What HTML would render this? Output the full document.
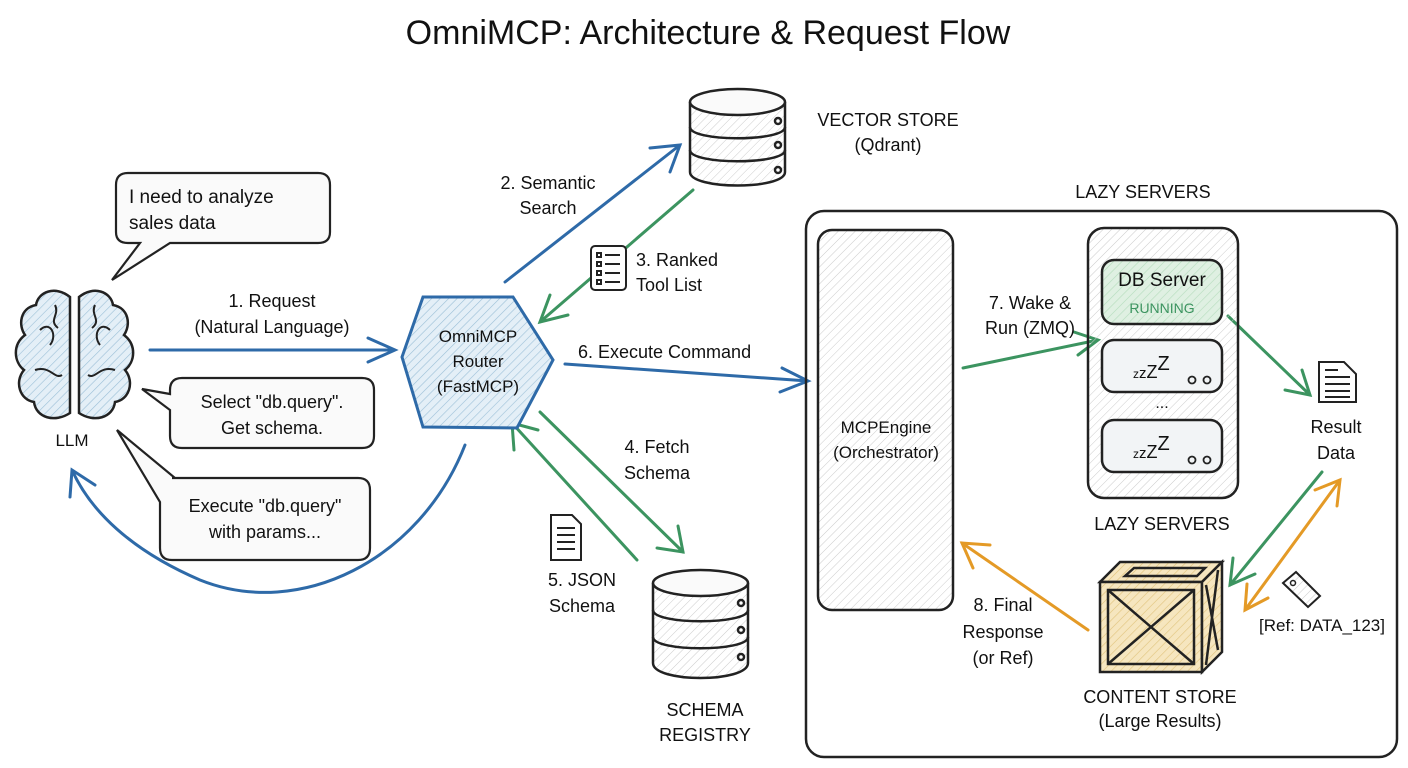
<!DOCTYPE html>
<html><head><meta charset="utf-8"><style>
html,body{margin:0;padding:0;background:#fff}
svg{display:block}
text{font-family:"Liberation Sans","DejaVu Sans",sans-serif;fill:#111}
</style></head><body>
<svg width="1408" height="768" viewBox="0 0 1408 768" xmlns="http://www.w3.org/2000/svg">
<defs>
<pattern id="h" width="6" height="6" patternUnits="userSpaceOnUse" patternTransform="rotate(45)"><line x1="0" y1="0" x2="0" y2="6" stroke="#ccc" stroke-width="1"/></pattern>
<pattern id="hb" width="6" height="6" patternUnits="userSpaceOnUse" patternTransform="rotate(45)"><rect width="6" height="6" fill="#e4eff7"/><line x1="0" y1="0" x2="0" y2="6" stroke="#9cc0d8" stroke-width="1.2"/></pattern>
<pattern id="hg" width="6" height="6" patternUnits="userSpaceOnUse" patternTransform="rotate(45)"><rect width="6" height="6" fill="#dff0e2"/><line x1="0" y1="0" x2="0" y2="6" stroke="#b4dcbc" stroke-width="1.2"/></pattern>
<pattern id="hy" width="6" height="6" patternUnits="userSpaceOnUse" patternTransform="rotate(45)"><rect width="6" height="6" fill="#f6e6bf"/><line x1="0" y1="0" x2="0" y2="6" stroke="#e0c27a" stroke-width="1.2"/></pattern>
</defs>
<rect width="1408" height="768" fill="#fff"/>
<text x="708" y="44" font-size="34" text-anchor="middle">OmniMCP: Architecture &amp; Request Flow</text>

<!-- brain -->
<g stroke="#222" stroke-width="2.5" fill="url(#hb)">
<path d="M70,297 C55,285 38,292 36,305 C20,308 18,325 25,335 C12,345 14,362 24,370 C14,382 20,400 34,402 C36,418 55,423 70,413 Z"/>
<path d="M79,297 C94,285 111,292 113,305 C129,308 131,325 124,335 C137,345 135,362 125,370 C135,382 129,400 115,402 C113,418 94,423 79,413 Z"/>
</g>
<g stroke="#222" stroke-width="2" fill="none">
<path d="M40,330 C50,320 58,335 50,345"/><path d="M35,370 C50,365 55,380 62,375"/><path d="M55,305 C60,315 48,320 58,328"/>
<path d="M110,330 C100,320 92,335 100,345"/><path d="M115,370 C100,365 95,380 88,375"/><path d="M95,305 C90,315 102,320 92,328"/>
</g>
<text x="72" y="446" font-size="17" text-anchor="middle">LLM</text>

<!-- bubbles -->
<g stroke="#222" stroke-width="2.2" fill="url(#h)">
<path d="M128,173 H318 Q330,173 330,185 V232 Q330,243 318,243 H170 L112,280 L140,243 H128 Q116,243 116,232 V185 Q116,173 128,173 Z" fill="#fafafa"/>
<path d="M182,378 H362 Q374,378 374,390 V436 Q374,448 362,448 H182 Q170,448 170,436 V410 L142,389 L170,394 V390 Q170,378 182,378 Z" fill="#fafafa"/>
<path d="M172,478 H358 Q370,478 370,490 V548 Q370,560 358,560 H172 Q160,560 160,548 V502 L117,430 L175,478 Z" fill="#fafafa"/>
</g>
<text font-size="19"><tspan x="129" y="203">I need to analyze</tspan><tspan x="129" y="229">sales data</tspan></text>
<text font-size="18" text-anchor="middle"><tspan x="272" y="408">Select "db.query".</tspan><tspan x="272" y="434">Get schema.</tspan></text>
<text font-size="18" text-anchor="middle"><tspan x="265" y="512">Execute "db.query"</tspan><tspan x="265" y="538">with params...</tspan></text>

<!-- arrows -->
<g fill="none" stroke-width="3" stroke-linecap="round">
<g stroke="#2e6aa8">
<path d="M150,350 H395 M368,338 L395,350 L368,362"/>
<path d="M505,282 L680,145 M650,148 L680,145 L670,172"/>
<path d="M565,364 L808,381 M782,368 L808,381 L780,392"/>
<path d="M465,445 C420,560 300,620 200,580 C130,550 90,510 72,470 M70,497 L72,470 L95,485"/>
</g>
<g stroke="#3c9460">
<path d="M693,190 L540,322 M550,295 L540,322 L568,315"/>
<path d="M540,412 L683,552 M657,548 L683,552 L678,526"/>
<path d="M637,560 L512,423 M514,450 L512,423 L538,430"/>
<path d="M963,368 L1098,340 M1074,332 L1098,340 L1078,355"/>
<path d="M1228,316 L1310,395 M1285,390 L1310,395 L1302,370"/>
<path d="M1322,472 L1230,585 M1233,558 L1230,585 L1255,574"/>
</g>
<g stroke="#e49a26">
<path d="M1340,480 L1245,610 M1247,584 L1245,610 L1268,598 M1315,490 L1340,480 L1337,506"/>
<path d="M1088,630 L962,543 M973,568 L962,543 L990,545"/>
</g>
</g>
<text font-size="18" text-anchor="middle"><tspan x="272" y="307">1. Request</tspan><tspan x="272" y="333">(Natural Language)</tspan></text>
<text font-size="18" text-anchor="middle"><tspan x="548" y="189">2. Semantic</tspan><tspan x="548" y="214">Search</tspan></text>
<text font-size="18"><tspan x="636" y="266">3. Ranked</tspan><tspan x="636" y="291">Tool List</tspan></text>
<text font-size="18" x="578" y="358">6. Execute Command</text>
<text font-size="18" text-anchor="middle"><tspan x="657" y="453">4. Fetch</tspan><tspan x="657" y="479">Schema</tspan></text>
<text font-size="18" text-anchor="middle"><tspan x="582" y="586">5. JSON</tspan><tspan x="582" y="612">Schema</tspan></text>

<!-- list icon -->
<g stroke="#222" stroke-width="2" fill="#fff"><rect x="591" y="246" width="35" height="44" rx="4"/>
<rect x="597" y="253" width="4" height="4"/><rect x="597" y="262" width="4" height="4"/><rect x="597" y="271" width="4" height="4"/><rect x="597" y="280" width="4" height="4"/>
<path d="M605,255 H620 M605,264 H620 M605,273 H620 M605,282 H620"/></g>
<!-- doc icon -->
<g stroke="#222" stroke-width="2" fill="#fff"><path d="M551,515 H572 L581,524 V560 H551 Z"/><path d="M557,528 H575 M557,535 H575 M557,542 H575 M557,549 H575"/></g>

<!-- hexagon -->
<path d="M423,297 L513,297 L553,360 L517,428 L423,427 L402,357 Z" fill="url(#hb)" stroke="#2e6aa8" stroke-width="3"/>
<text font-size="17" text-anchor="middle"><tspan x="478" y="342">OmniMCP</tspan><tspan x="478" y="367">Router</tspan><tspan x="478" y="392">(FastMCP)</tspan></text>

<!-- databases -->
<g id="db1" stroke="#222" stroke-width="2.5" fill="url(#h)">
<path d="M690,102 V172 C690,190 785,190 785,172 V102"/>
<ellipse cx="737.5" cy="102" rx="47.5" ry="13" fill="#fafafa"/>
<path d="M690,127 C690,142 785,142 785,127 M690,150 C690,165 785,165 785,150" fill="none"/>
<circle cx="778" cy="121" r="3" fill="#fff"/><circle cx="778" cy="145" r="3" fill="#fff"/><circle cx="778" cy="170" r="3" fill="#fff"/>
</g>
<g stroke="#222" stroke-width="2.5" fill="url(#h)">
<path d="M653,583 V663 C653,683 748,683 748,663 V583"/>
<ellipse cx="700.5" cy="583" rx="47.5" ry="13" fill="#fafafa"/>
<path d="M653,610 C653,625 748,625 748,610 M653,637 C653,652 748,652 748,637" fill="none"/>
<circle cx="741" cy="603" r="3" fill="#fff"/><circle cx="741" cy="630" r="3" fill="#fff"/><circle cx="741" cy="657" r="3" fill="#fff"/>
</g>
<text font-size="18" text-anchor="middle"><tspan x="888" y="126">VECTOR STORE</tspan><tspan x="888" y="151">(Qdrant)</tspan></text>
<text font-size="18" text-anchor="middle"><tspan x="705" y="716">SCHEMA</tspan><tspan x="705" y="741">REGISTRY</tspan></text>

<!-- lazy servers container -->
<text font-size="18" text-anchor="middle" x="1143" y="198">LAZY SERVERS</text>
<rect x="806" y="211" width="591" height="546" rx="18" fill="none" stroke="#222" stroke-width="2.5"/>
<rect x="818" y="230" width="135" height="380" rx="14" fill="url(#h)" stroke="#222" stroke-width="2.5"/>
<text font-size="17" text-anchor="middle"><tspan x="886" y="433">MCPEngine</tspan><tspan x="886" y="458">(Orchestrator)</tspan></text>
<text font-size="18" text-anchor="middle"><tspan x="1030" y="309">7. Wake &amp;</tspan><tspan x="1030" y="334">Run (ZMQ)</tspan></text>

<rect x="1088" y="228" width="150" height="270" rx="16" fill="url(#h)" stroke="#222" stroke-width="2.5"/>
<rect x="1102" y="260" width="120" height="64" rx="12" fill="url(#hg)" stroke="#222" stroke-width="2.5"/>
<text x="1162" y="286" font-size="19" text-anchor="middle">DB Server</text>
<text x="1162" y="313" font-size="14" text-anchor="middle" style="fill:#3c9460">RUNNING</text>
<rect x="1102" y="340" width="120" height="52" rx="12" fill="#f2f4f6" stroke="#222" stroke-width="2.5"/>
<rect x="1102" y="420" width="120" height="52" rx="12" fill="#f2f4f6" stroke="#222" stroke-width="2.5"/>
<text font-size="12" x="1133" y="378">z<tspan font-size="15">z</tspan><tspan font-size="18">Z</tspan><tspan font-size="20" dy="-8">Z</tspan></text>
<text font-size="12" x="1133" y="458">z<tspan font-size="15">z</tspan><tspan font-size="18">Z</tspan><tspan font-size="20" dy="-8">Z</tspan></text>
<g fill="none" stroke="#222" stroke-width="1.8"><circle cx="1192" cy="380" r="3.5"/><circle cx="1207" cy="380" r="3.5"/><circle cx="1192" cy="460" r="3.5"/><circle cx="1207" cy="460" r="3.5"/></g>
<text x="1162" y="408" font-size="16" text-anchor="middle">...</text>
<text x="1162" y="530" font-size="18" text-anchor="middle">LAZY SERVERS</text>

<!-- result doc -->
<g stroke="#222" stroke-width="2" fill="#fff"><path d="M1319,362 H1344 L1356,374 V402 H1319 Z"/><path d="M1325,377 H1350 M1325,384 H1350 M1325,391 H1350 M1325,397 H1350 M1325,370 H1338"/></g>
<text font-size="18" text-anchor="middle"><tspan x="1336" y="433">Result</tspan><tspan x="1336" y="459">Data</tspan></text>

<!-- tag -->
<path d="M1283,583 L1296,572 L1320,596 L1308,607 Z" fill="url(#h)" stroke="#222" stroke-width="2"/>
<circle cx="1293" cy="583" r="2.5" fill="#fff" stroke="#222" stroke-width="1.5"/>
<text x="1322" y="631" font-size="17" text-anchor="middle">[Ref: DATA_123]</text>

<!-- crate -->
<g stroke="#222" stroke-width="2.5" fill="url(#hy)">
<path d="M1100,582 L1120,562 H1222 L1202,582 Z"/>
<rect x="1100" y="582" width="102" height="90"/>
<path d="M1202,582 L1222,562 V652 L1202,672 Z"/>
</g>
<g stroke="#222" stroke-width="2.5" fill="none">
<rect x="1108" y="590" width="86" height="74"/><path d="M1108,590 L1194,664 M1194,590 L1108,664"/>
<path d="M1206,585 L1218,650 M1218,570 L1206,665"/><path d="M1125,576 L1134,568 H1205 L1197,576 Z"/>
</g>
<text font-size="18" text-anchor="middle"><tspan x="1160" y="703">CONTENT STORE</tspan><tspan x="1160" y="727">(Large Results)</tspan></text>
<text font-size="18" text-anchor="middle"><tspan x="1003" y="611">8. Final</tspan><tspan x="1003" y="638">Response</tspan><tspan x="1003" y="664">(or Ref)</tspan></text>
</svg>
</body></html>
